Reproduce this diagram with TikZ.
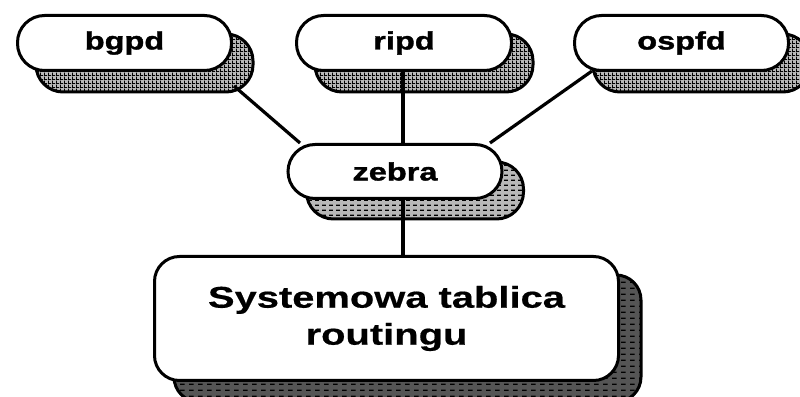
\documentclass[tikz,border=0pt]{standalone}
\usepackage{fontspec}
\usetikzlibrary{patterns,calc}

% Wide, heavy sans lettering for the boxes
\newfontfamily\daemonfont[FakeStretch=1.3,FakeBold=1.5]{Liberation Sans Bold}
\newfontfamily\tablefont[FakeStretch=1.33,FakeBold=0.5]{Liberation Sans Bold}

% Fill textures for the drop shadows
\pgfdeclarepatternformonly{meshgrid}{\pgfqpoint{0pt}{0pt}}{\pgfqpoint{4pt}{4pt}}{\pgfqpoint{4pt}{4pt}}{%
  \pgfpathrectangle{\pgfqpoint{0pt}{0pt}}{\pgfqpoint{4pt}{1.2pt}}%
  \pgfpathrectangle{\pgfqpoint{0pt}{0pt}}{\pgfqpoint{1.2pt}{4pt}}%
  \pgfusepath{fill}}
\pgfdeclarepatternformonly{shortdash}{\pgfqpoint{0pt}{0pt}}{\pgfqpoint{7pt}{5pt}}{\pgfqpoint{7pt}{5pt}}{%
  \pgfpathrectangle{\pgfqpoint{0pt}{0pt}}{\pgfqpoint{4.5pt}{1.6pt}}%
  \pgfusepath{fill}}
\pgfdeclarepatternformonly{longdash}{\pgfqpoint{0pt}{0pt}}{\pgfqpoint{9pt}{6pt}}{\pgfqpoint{9pt}{6pt}}{%
  \pgfpathrectangle{\pgfqpoint{0pt}{0pt}}{\pgfqpoint{5pt}{1.6pt}}%
  \pgfusepath{fill}}

\pgfdeclarelayer{paper}
\pgfdeclarelayer{shade}
\pgfsetlayers{paper,shade,main}

\definecolor{shadelight}{HTML}{B8B8B8}
\definecolor{shadedark}{HTML}{555555}

\tikzset{
  daemon/.style={draw=black, line width=3pt, fill=white, rounded corners=27pt,
    minimum width=214pt, minimum height=55pt, inner sep=0pt,
    font=\daemonfont\fontsize{25}{30}\selectfont},
  tablebox/.style={draw=black, line width=3pt, fill=white, rounded corners=25pt,
    minimum width=464pt, minimum height=124pt, inner sep=0pt, align=center,
    font=\tablefont\fontsize{30}{37}\selectfont},
  shadowbase/.style={draw=black, line width=3pt},
  meshshadow/.style={shadowbase, rounded corners=27pt, preaction={fill=shadelight}, pattern=meshgrid},
  dashshadow/.style={shadowbase, rounded corners=27pt, preaction={fill=shadelight}, pattern=shortdash},
  darkshadow/.style={shadowbase, rounded corners=25pt, preaction={fill=shadedark}, pattern=longdash},
  link/.style={draw=black, line width=3.2pt}
}

\begin{document}
\begin{tikzpicture}[x=1pt,y=1pt]
  \useasboundingbox (0,0) rectangle (800,396);
  \clip (0,0) rectangle (800,396);
  \begin{pgfonlayer}{paper}
    \fill[white] (0,0) rectangle (800,396);
  \end{pgfonlayer}

  % routing daemons
  \node[daemon] (bgpd)  at (124.5,353) {bgpd};
  \node[daemon, minimum width=215pt] (ripd)  at (404,353) {ripd};
  \node[daemon] (ospfd) at (681.5,353) {ospfd};
  % zebra manager
  \node[daemon, minimum height=54pt] (zebra) at (395,224.5) {zebra};
  % kernel routing table
  \node[tablebox] (table) at (386.5,77.5) {Systemowa tablica\\routingu};

  % drop shadows behind every box
  \begin{pgfonlayer}{shade}
    \foreach \n in {bgpd,ripd,ospfd}{
      \path[meshshadow] ([shift={(20,-20)}]\n.north west) rectangle ([shift={(20,-20)}]\n.south east);
    }
    \path[dashshadow] ([shift={(20,-19)}]zebra.north west) rectangle ([shift={(20,-19)}]zebra.south east);
    \path[darkshadow] ([shift={(21,-20)}]table.north west) rectangle ([shift={(21,-20)}]table.south east);
  \end{pgfonlayer}

  % connectors
  \coordinate (bgpdout) at (234,310);
  \coordinate (zebrain) at (300,253);
  \coordinate (ospfdout) at (592,325);
  \coordinate (zebraright) at (490,253);
  \draw[link] (bgpdout) -- (zebrain);
  \draw[link] (ospfdout) -- (zebraright);
  \draw[link] ([xshift=-1pt]ripd.south) -- ([xshift=-1pt]ripd.south |- zebra.north);
  \draw[link] ([xshift=8pt]zebra.south) -- ([xshift=8pt]zebra.south |- table.north);
\end{tikzpicture}
\end{document}
